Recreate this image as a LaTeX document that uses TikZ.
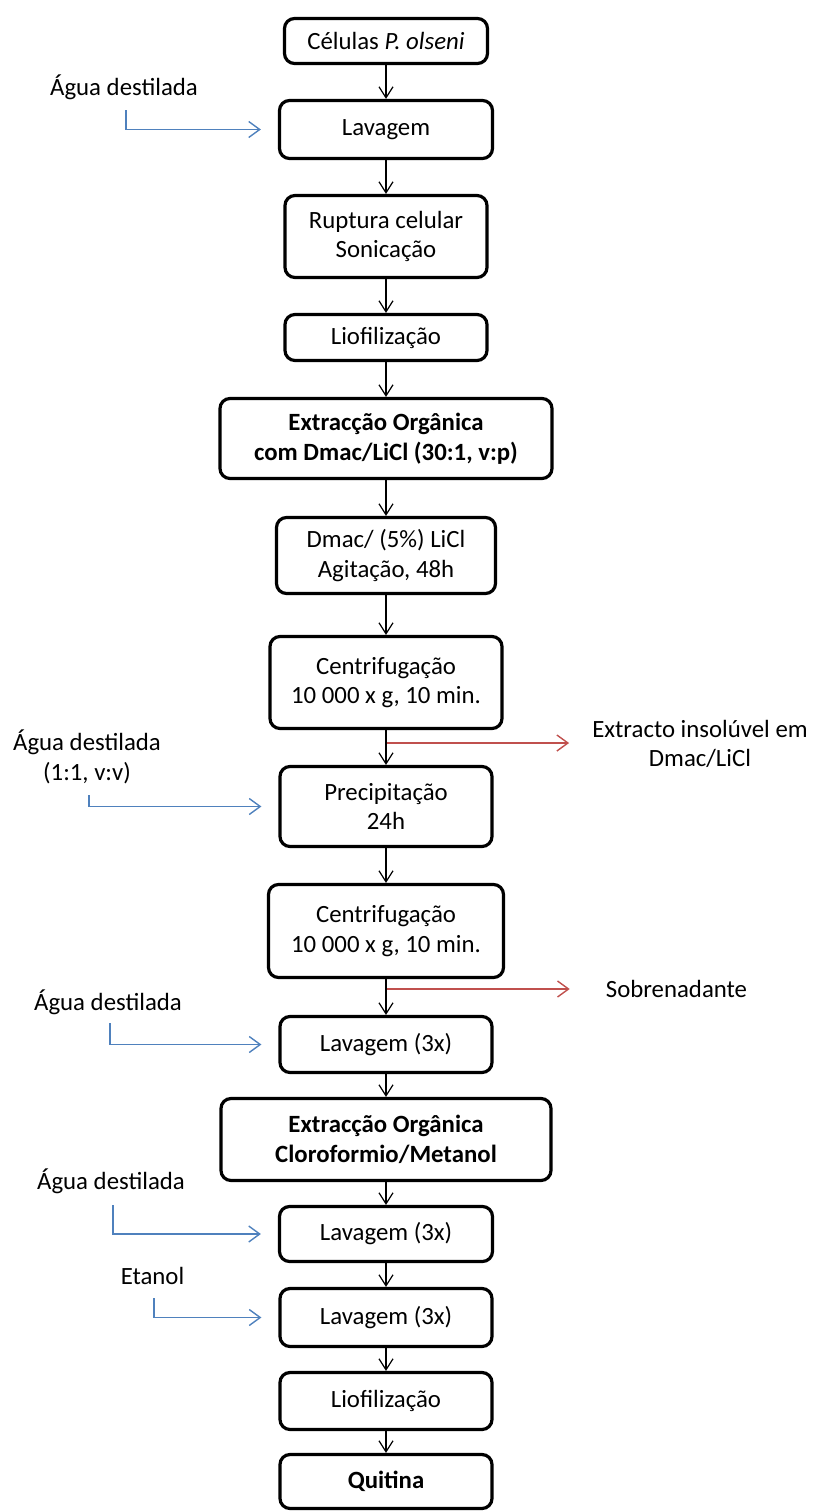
\documentclass[tikz,border=0pt]{standalone}
\usepackage{fontspec}
\setmainfont{Carlito}
\usetikzlibrary{arrows.meta}
\definecolor{flowblue}{RGB}{79,129,189}
\definecolor{flowred}{RGB}{192,80,77}

\begin{document}
\begin{tikzpicture}[x=1pt, y=-1pt, font=\fontsize{24.8}{29.5}\selectfont]
    \tikzstyle{stepbox} = [draw, line width=3.2pt, rounded corners=10pt, align=center, inner sep=0pt]
    \tikzstyle{boldbox} = [stepbox, font=\fontsize{24.8}{29.5}\selectfont\bfseries]
    \tikzstyle{arrow} = [line width=1.2pt, -{Straight Barb[length=11pt,width=14pt]}]
    \tikzstyle{inarrow} = [line width=1.4pt, flowblue, shorten >=17pt, -{Straight Barb[length=11pt,width=16pt]}]
    \tikzstyle{outarrow} = [line width=1.4pt, flowred, -{Straight Barb[length=11pt,width=16pt]}]
    \useasboundingbox (0,0) rectangle (812,1512);

    % Start: cells
    \node [stepbox, minimum width=203pt, minimum height=45pt] (Cells) at (386,41) {C\'elulas \textit{P. olseni}};

    % First washing, with water
    \node [stepbox, minimum width=213pt, minimum height=58pt] (Wash) at (386,129.5) {Lavagem};
    \draw [arrow] (Cells) -- (Wash);
    \node [inner sep=0pt] (WaterA) at (124,87) {\'Agua destilada};
    \coordinate (WaterAStart) at (126,110);
    \draw [inarrow] (WaterAStart) |- (Wash);

    % Cell rupture
    \node [stepbox, minimum width=202pt, minimum height=82pt] (Rupture) at (386,236.5) {Ruptura celular\\Sonica\c{c}\~ao};
    \draw [arrow] (Wash) -- (Rupture);

    % Freeze drying
    \node [stepbox, minimum width=202pt, minimum height=46pt] (DryA) at (386,337.5) {Liofiliza\c{c}\~ao};
    \draw [arrow] (Rupture) -- (DryA);

    % Organic extraction, Dmac/LiCl
    \node [boldbox, minimum width=332pt, minimum height=80pt] (ExtrA) at (386,438.5) {Extrac\c{c}\~ao Org\^anica\\com Dmac/LiCl (30:1, v:p)};
    \draw [arrow] (DryA) -- (ExtrA);

      % Stirring
      \node [stepbox, minimum width=219pt, minimum height=76pt] (Stir) at (386,555.5) {Dmac/ (5\%) LiCl\\Agita\c{c}\~ao, 48h};
      \draw [arrow] (ExtrA) -- (Stir);

      % Centrifugation, insoluble part out
      \node [stepbox, minimum width=232pt, minimum height=92pt] (SpinA) at (386,682.5) {Centrifuga\c{c}\~ao\\10 000 x g, 10 min.};
      \draw [arrow] (Stir) -- (SpinA);
      \node [inner sep=0pt, align=center] (Insol) at (700,744) {Extracto insol\'uvel em\\Dmac/LiCl};
      \coordinate (SplitA) at (386,743);
      \draw [outarrow, shorten >=23pt] (SplitA) -- (SplitA -| Insol.west);

      % Precipitation, with water
      \node [stepbox, minimum width=212pt, minimum height=80pt] (Precip) at (386,806.5) {Precipita\c{c}\~ao\\24h};
      \draw [arrow] (SpinA) -- (Precip);
      \node [inner sep=0pt, align=center] (WaterB) at (87,757) {\'Agua destilada\\(1:1, v:v)};
      \coordinate (WaterBStart) at (89,795);
      \draw [inarrow] (WaterBStart) |- (Precip);

      % Centrifugation, supernatant out
      \node [stepbox, minimum width=235pt, minimum height=93pt] (SpinB) at (386,931) {Centrifuga\c{c}\~ao\\10 000 x g, 10 min.};
      \draw [arrow] (Precip) -- (SpinB);
      \node [inner sep=0pt] (Super) at (676.5,989) {Sobrenadante};
      \coordinate (SplitB) at (386,989);
      \draw [outarrow, shorten >=36pt] (SplitB) -- (Super);

      % Washing, with water
      \node [stepbox, minimum width=212pt, minimum height=56pt] (WashB) at (386,1044.5) {Lavagem (3x)};
      \draw [arrow] (SpinB) -- (WashB);
      \node [inner sep=0pt] (WaterC) at (108,1002) {\'Agua destilada};
      \coordinate (WaterCStart) at (110,1023);
      \draw [inarrow] (WaterCStart) |- (WashB);

    % Organic extraction, chloroform/methanol
    \node [boldbox, minimum width=330pt, minimum height=82pt] (ExtrB) at (386,1139.5) {Extrac\c{c}\~ao Org\^anica\\Cloroformio/Metanol};
    \draw [arrow] (WashB) -- (ExtrB);

      % Washing, with water
      \node [stepbox, minimum width=213pt, minimum height=55pt] (WashC) at (386,1234) {Lavagem (3x)};
      \draw [arrow] (ExtrB) -- (WashC);
      \node [inner sep=0pt] (WaterD) at (111,1181) {\'Agua destilada};
      \coordinate (WaterDStart) at (113,1205);
      \draw [inarrow] (WaterDStart) |- (WashC);

      % Washing, with ethanol
      \node [stepbox, minimum width=212pt, minimum height=58pt] (WashD) at (386,1317.5) {Lavagem (3x)};
      \draw [arrow] (WashC) -- (WashD);
      \node [inner sep=0pt] (Ethanol) at (152.5,1276) {Etanol};
      \coordinate (EthanolStart) at (154,1298);
      \draw [inarrow] (EthanolStart) |- (WashD);

    % Freeze drying
    \node [stepbox, minimum width=212pt, minimum height=57pt] (DryB) at (386,1401) {Liofiliza\c{c}\~ao};
    \draw [arrow] (WashD) -- (DryB);

    % End: chitin
    \node [boldbox, minimum width=212pt, minimum height=54pt] (Chitin) at (386,1481.5) {Quitina};
    \draw [arrow] (DryB) -- (Chitin);
\end{tikzpicture}
\end{document}
